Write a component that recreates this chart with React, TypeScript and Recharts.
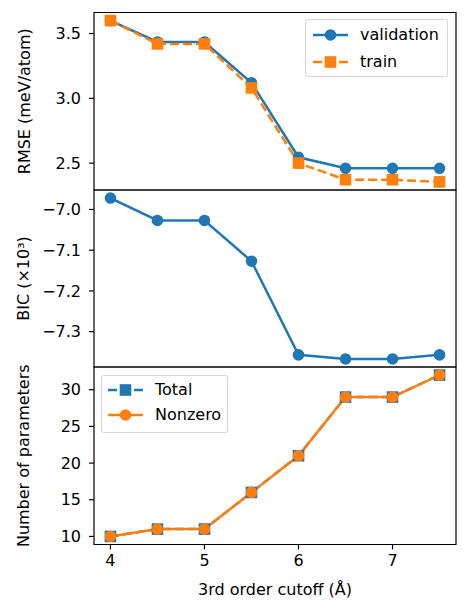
import { LineChart, Line, XAxis, YAxis, ReferenceArea, Legend } from 'recharts';

const cutoffs = [4, 4.5, 5, 5.5, 6, 6.5, 7, 7.5];
const rmseValidation = [3.6, 3.435, 3.435, 3.12, 2.545, 2.46, 2.46, 2.46];
const rmseTrain = [3.6, 3.42, 3.42, 3.08, 2.5, 2.372, 2.372, 2.355];
const bic = [-6.972, -7.027, -7.027, -7.127, -7.357, -7.367, -7.367, -7.357];
const paramsTotal = [10, 11, 11, 16, 21, 29, 29, 32];
const paramsNonzero = [10, 11, 11, 16, 21, 29, 29, 32];

const xTicks = [4, 5, 6, 7];
const rmseTicks = [2.5, 3.0, 3.5];
const bicTicks = [-7.3, -7.2, -7.1, -7.0];
const paramTicks = [10, 15, 20, 25, 30];

const BLUE = '#1f77b4';
const ORANGE = '#ff7f0e';
const FONT = '"DejaVu Sans", sans-serif';
const X_DOMAIN: [number, number] = [3.825, 7.675];
const RMSE_DOMAIN: [number, number] = [2.2925, 3.6625];
const BIC_DOMAIN: [number, number] = [-7.3868, -6.9522];
const PARAM_DOMAIN: [number, number] = [8.9, 33.1];

const rmseData = cutoffs.map((c, i) => ({ cutoff: c, validation: rmseValidation[i], train: rmseTrain[i] }));
const bicData = cutoffs.map((c, i) => ({ cutoff: c, bic: bic[i] }));
const paramData = cutoffs.map((c, i) => ({ cutoff: c, total: paramsTotal[i], nonzero: paramsNonzero[i] }));

const WIDTH = 468;
const MARGIN_RIGHT = 12;
const AXIS_W = 94;

const tickStyle = { fill: '#000', fontSize: 16, fontFamily: FONT };
const circleDot = (color: string) => ({ r: 5, fill: color, stroke: color, strokeWidth: 1.6 });

const SquareDot = (props: any) => {
  const { cx, cy, color } = props;
  if (cx == null || cy == null) return null;
  return <rect x={cx - 5} y={cy - 5} width={10} height={10} fill={color} stroke={color} strokeWidth={1.6} />;
};

const squareDot = (color: string) => (p: any) => {
  const { key, ...rest } = p;
  return <SquareDot key={`sq-${p.index}`} {...rest} color={color} />;
};

type LegendEntry = { label: string; color: string; marker: 'circle' | 'square'; dashed: boolean };

const LegendBox = ({ entries, width, rowTop, rowGap, padLeft }: {
  entries: LegendEntry[]; width: number; rowTop: number; rowGap: number; padLeft: number;
}) => (
  <div
    style={{
      boxSizing: 'border-box',
      position: 'relative',
      width,
      height: 58,
      border: '1px solid rgba(204,204,204,0.8)',
      borderRadius: 3,
      background: 'rgba(255,255,255,0.8)',
      fontFamily: FONT,
      fontSize: 16,
      color: '#000',
    }}
  >
    {entries.map((e, i) => (
      <div
        key={e.label}
        style={{ position: 'absolute', left: padLeft - 1, top: rowTop + i * rowGap - 10 - 1, height: 20, display: 'flex', alignItems: 'center', whiteSpace: 'nowrap' }}
      >
        <svg width={35} height={20}>
          <line x1={0} x2={35} y1={10} y2={10} stroke={e.color} strokeWidth={2.5} strokeDasharray={e.dashed ? '9 4' : undefined} />
          {e.marker === 'circle' ? (
            <circle cx={17.5} cy={10} r={5} fill={e.color} stroke={e.color} strokeWidth={1.6} />
          ) : (
            <rect x={12.5} y={5} width={10} height={10} fill={e.color} stroke={e.color} strokeWidth={1.6} />
          )}
        </svg>
        <span style={{ marginLeft: 12, lineHeight: '20px' }}>{e.label}</span>
      </div>
    ))}
  </div>
);

const rmseLegend: LegendEntry[] = [
  { label: 'validation', color: BLUE, marker: 'circle', dashed: false },
  { label: 'train', color: ORANGE, marker: 'square', dashed: true },
];
const paramLegend: LegendEntry[] = [
  { label: 'Total', color: BLUE, marker: 'square', dashed: true },
  { label: 'Nonzero', color: ORANGE, marker: 'circle', dashed: false },
];

const yAxisProps = {
  type: 'number' as const,
  width: AXIS_W,
  allowDataOverflow: true,
  interval: 0 as const,
  axisLine: false,
  tickSize: 5,
  tickMargin: 8,
  tickLine: { stroke: '#000', strokeWidth: 1.2 },
  tick: tickStyle,
};

const frame = (yDomain: [number, number]) => (
  <ReferenceArea
    x1={X_DOMAIN[0]}
    x2={X_DOMAIN[1]}
    y1={yDomain[0]}
    y2={yDomain[1]}
    fill="none"
    stroke="#000"
    strokeWidth={1.2}
    ifOverflow="visible"
  />
);

const yLabel = (value: string, offset: number) => ({
  value,
  angle: -90,
  position: 'insideLeft' as const,
  offset,
  style: { textAnchor: 'middle', fill: '#000', fontSize: 16, fontFamily: FONT },
});

export default function App() {
  return (
    <div style={{ position: 'absolute', left: 0, top: 0, width: WIDTH, height: 612, background: '#fff' }}>
      <div style={{ position: 'absolute', left: 0, top: 0 }}>
        <LineChart width={WIDTH} height={191} data={rmseData} margin={{ top: 12.5, right: MARGIN_RIGHT, bottom: 1, left: 0 }}>
          <XAxis dataKey="cutoff" type="number" domain={X_DOMAIN} allowDataOverflow hide />
          <YAxis {...yAxisProps} domain={RMSE_DOMAIN} ticks={rmseTicks} tickFormatter={(v: number) => v.toFixed(1)} label={yLabel('RMSE (meV/atom)', 24)} />
          <Line dataKey="validation" stroke={BLUE} strokeWidth={2.5} dot={circleDot(BLUE)} isAnimationActive={false} />
          <Line dataKey="train" stroke={ORANGE} strokeWidth={2.5} strokeDasharray="9 4" dot={squareDot(ORANGE)} isAnimationActive={false} />
          {frame(RMSE_DOMAIN)}
          <Legend
            layout="horizontal"
            verticalAlign="middle"
            align="center"
            wrapperStyle={{ top: 19.3, left: 305, width: 143, height: 58 }}
            content={() => <LegendBox entries={rmseLegend} width={143} rowTop={16} rowGap={26.7} padLeft={8} />}
          />
        </LineChart>
      </div>
      <div style={{ position: 'absolute', left: 0, top: 189 }}>
        <LineChart width={WIDTH} height={179} data={bicData} margin={{ top: 1, right: MARGIN_RIGHT, bottom: 1, left: 0 }}>
          <XAxis dataKey="cutoff" type="number" domain={X_DOMAIN} allowDataOverflow hide />
          <YAxis
            {...yAxisProps}
            domain={BIC_DOMAIN}
            ticks={bicTicks}
            tickFormatter={(v: number) => v.toFixed(1).replace('-', '\u2212')}
            label={yLabel('BIC (×10³)', 23)}
          />
          <Line dataKey="bic" stroke={BLUE} strokeWidth={2.5} dot={circleDot(BLUE)} isAnimationActive={false} />
          {frame(BIC_DOMAIN)}
        </LineChart>
      </div>
      <div style={{ position: 'absolute', left: 0, top: 350 }}>
        <LineChart width={WIDTH} height={262} data={paramData} margin={{ top: 17, right: MARGIN_RIGHT, bottom: 0, left: 0 }}>
          <XAxis
            dataKey="cutoff"
            type="number"
            domain={X_DOMAIN}
            allowDataOverflow
            ticks={xTicks}
            interval={0}
            height={67.5}
            axisLine={false}
            tickSize={5}
            tickMargin={5}
            tickLine={{ stroke: '#000', strokeWidth: 1.2 }}
            tick={tickStyle}
            label={{ value: '3rd order cutoff (Å)', position: 'insideBottom', offset: 17, style: { fill: '#000', fontSize: 16, fontFamily: FONT } }}
          />
          <YAxis {...yAxisProps} domain={PARAM_DOMAIN} ticks={paramTicks} label={yLabel('Number of parameters', 23)} />
          <Line dataKey="total" stroke={BLUE} strokeWidth={2.5} strokeDasharray="9 4" dot={squareDot(BLUE)} isAnimationActive={false} />
          <Line dataKey="nonzero" stroke={ORANGE} strokeWidth={2.5} dot={circleDot(ORANGE)} isAnimationActive={false} />
          {frame(PARAM_DOMAIN)}
          <Legend
            layout="horizontal"
            verticalAlign="middle"
            align="center"
            wrapperStyle={{ top: 25, left: 101, width: 127, height: 58 }}
            content={() => <LegendBox entries={paramLegend} width={127} rowTop={15} rowGap={25} padLeft={7} />}
          />
        </LineChart>
      </div>
    </div>
  );
}
